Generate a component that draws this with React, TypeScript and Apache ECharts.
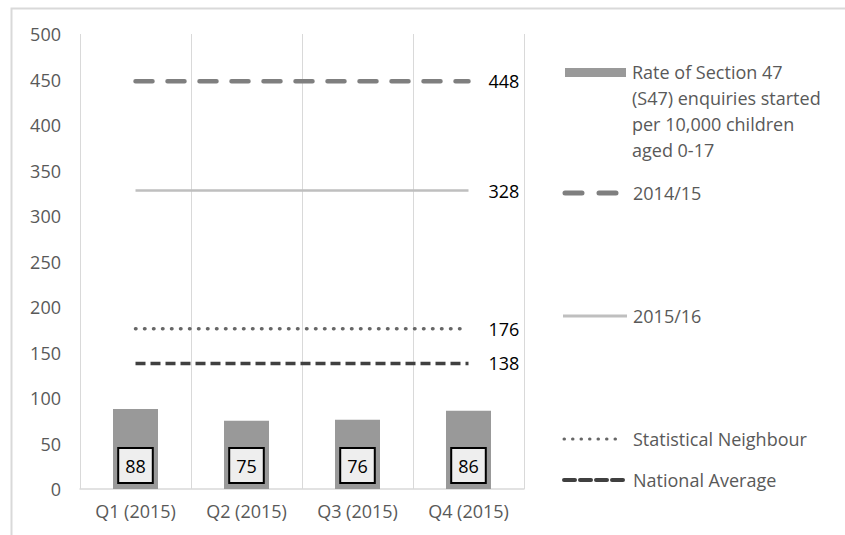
import React, { useEffect, useRef } from "react";
import * as echarts from "echarts";

const categories = ["Q1 (2015)", "Q2 (2015)", "Q3 (2015)", "Q4 (2015)"];
const rateValues = [88, 75, 76, 86];
const values201415 = [448, 448, 448, 448];
const values201516 = [328, 328, 328, 328];
const statNeighbour = [176, 176, 176, 176];
const nationalAverage = [138, 138, 138, 138];
const yTicks = { min: 0, max: 500, interval: 50 };

const barName = "Rate of Section 47\n(S47) enquiries started\nper 10,000 children\naged 0-17";
const FONT = "'Open Sans', 'Noto Sans', sans-serif";

const endLabel = {
  show: true,
  formatter: "{c}",
  distance: 20,
  color: "#000",
  fontSize: 18,
  fontFamily: FONT,
};

function legendAt(name: string, top: number) {
  return {
    data: [name],
    left: 563,
    top,
    itemWidth: 59,
    itemHeight: 10,
    itemGap: 0,
    selectedMode: false,
    itemStyle: { opacity: 0 },
    lineStyle: { opacity: 0 },
    textStyle: { color: "#595959", fontSize: 18, fontFamily: FONT, lineHeight: 26 },
  };
}

export default function App() {
  const ref = useRef<HTMLDivElement>(null);
  useEffect(() => {
    if (!ref.current) return;
    const chart = echarts.init(ref.current, undefined, { renderer: "svg" });
    chart.setOption({
      animation: false,
      graphic: [
        {
          type: "rect",
          shape: { x: 11.5, y: 8.5, width: 860, height: 560 },
          style: { fill: "none", stroke: "#d9d9d9", lineWidth: 2 },
          silent: true,
          z: -10,
        },
        {
          type: "rect",
          shape: { x: 565, y: 68, width: 61, height: 9 },
          style: { fill: "#999999" },
          silent: true,
        },
        {
          type: "line",
          shape: { x1: 565, y1: 193, x2: 617, y2: 193 },
          style: { stroke: "#7f7f7f", lineWidth: 5, lineDash: [17, 17], lineCap: "round" },
          silent: true,
        },
        {
          type: "line",
          shape: { x1: 563, y1: 316, x2: 627, y2: 316 },
          style: { stroke: "#bfbfbf", lineWidth: 3 },
          silent: true,
        },
        {
          type: "line",
          shape: { x1: 564, y1: 439, x2: 622, y2: 439 },
          style: { stroke: "#666666", lineWidth: 3, lineDash: [0.5, 8], lineCap: "round" },
          silent: true,
        },
        {
          type: "line",
          shape: { x1: 564, y1: 480, x2: 627, y2: 480 },
          style: { stroke: "#404040", lineWidth: 4, lineDash: [11, 5], lineCap: "round" },
          silent: true,
        },
      ],
      grid: { left: 80, right: 321, top: 34, bottom: 46 },
      legend: [
        legendAt(barName, 54),
        legendAt("2014/15", 175),
        legendAt("2015/16", 298),
        legendAt("Statistical Neighbour", 421),
        legendAt("National Average", 462),
      ],
      xAxis: {
        type: "category",
        data: categories,
        axisTick: { show: false },
        axisLine: { lineStyle: { color: "#d9d9d9", width: 1.5 } },
        axisLabel: { color: "#595959", fontSize: 18, fontFamily: FONT, margin: 13 },
        splitLine: { show: true, lineStyle: { color: "#d9d9d9", width: 1 } },
      },
      yAxis: {
        type: "value",
        min: yTicks.min,
        max: yTicks.max,
        interval: yTicks.interval,
        axisLine: { show: false },
        axisTick: { show: false },
        splitLine: { show: false },
        axisLabel: { color: "#595959", fontSize: 18, fontFamily: FONT, margin: 19 },
      },
      series: [
        {
          name: barName,
          type: "bar",
          data: rateValues,
          barWidth: 45,
          itemStyle: { color: "#999999" },
          label: {
            show: true,
            position: "insideBottom",
            distance: 7,
            color: "#000",
            fontSize: 18,
            lineHeight: 20,
            fontFamily: FONT,
            backgroundColor: "#eeeeee",
            borderColor: "#000",
            borderWidth: 2,
            padding: [7, 6, 6, 6],
          },
        },
        {
          name: "2014/15",
          type: "line",
          data: values201415,
          symbol: "none",
          lineStyle: { color: "#7f7f7f", width: 4.5, type: [17, 15], cap: "round" },
          itemStyle: { color: "#7f7f7f" },
          endLabel,
        },
        {
          name: "2015/16",
          type: "line",
          data: values201516,
          symbol: "none",
          lineStyle: { color: "#bfbfbf", width: 2.5, type: "solid" },
          itemStyle: { color: "#bfbfbf" },
          endLabel,
        },
        {
          name: "Statistical Neighbour",
          type: "line",
          data: statNeighbour,
          symbol: "none",
          lineStyle: { color: "#666666", width: 3.5, type: [0.5, 8.5], cap: "round" },
          itemStyle: { color: "#666666" },
          endLabel,
        },
        {
          name: "National Average",
          type: "line",
          data: nationalAverage,
          symbol: "none",
          lineStyle: { color: "#404040", width: 3.5, type: [10, 5] },
          itemStyle: { color: "#404040" },
          endLabel,
        },
      ],
    });
    return () => chart.dispose();
  }, []);
  return <div ref={ref} style={{ width: 845, height: 535, position: "absolute", left: 0, top: 0 }} />;
}
